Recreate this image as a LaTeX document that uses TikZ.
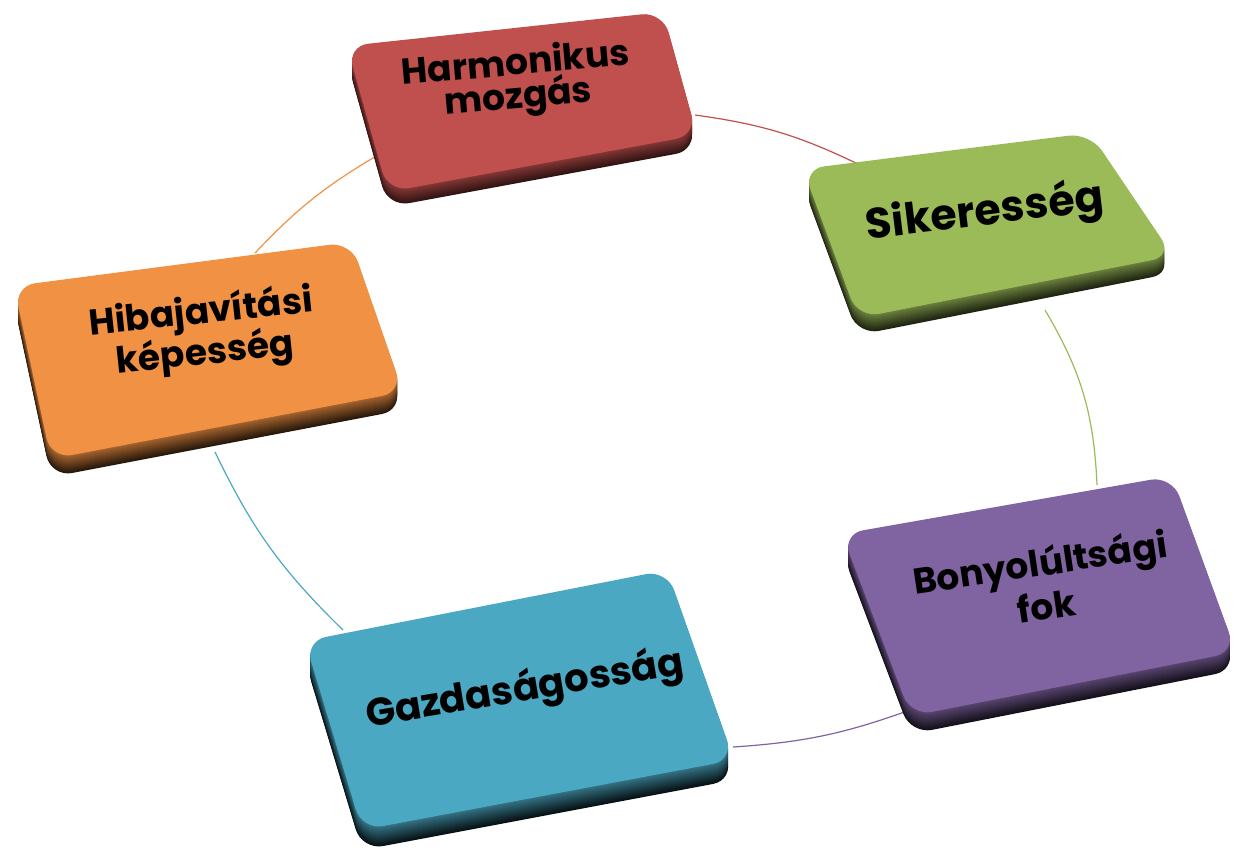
\documentclass[tikz,border=0pt]{standalone}
\usepackage{fontspec}
\setmainfont{Poppins}

\definecolor{harmred}{RGB}{192,80,77}
\definecolor{sikgreen}{RGB}{155,187,89}
\definecolor{hibaorange}{RGB}{240,145,68}
\definecolor{bonypurple}{RGB}{128,100,162}
\definecolor{gazdblue}{RGB}{75,168,194}

\tikzset{
  face/.style={fill=#1, rounded corners=16pt},
  side/.style={fill=#1, rounded corners=16pt},
  link/.style={draw=#1, line width=0.9pt},
  boxtext/.style={text=black, align=center, inner sep=0pt}
}

\begin{document}
\begin{tikzpicture}[x=0.75pt,y=0.75pt,yscale=-1,xscale=1]
\useasboundingbox (0,0) rectangle (1238,850);

%Connector ends
\coordinate (redA) at (695,115);
\coordinate (greenA) at (860,165);
\coordinate (greenB) at (1045,310);
\coordinate (purpleA) at (1097,485);
\coordinate (purpleB) at (910,710);
\coordinate (blueA) at (733,747);
\coordinate (blueB) at (343,630);
\coordinate (orangeA) at (215,452);
\coordinate (orangeB) at (255,253);
\coordinate (redB) at (378,155);

%Circle arcs
\draw [link=harmred] (redA) to[bend right=9] (greenA);
\draw [link=sikgreen] (greenB) to[bend right=14] (purpleA);
\draw [link=bonypurple] (purpleB) to[bend right=8] (blueA);
\draw [link=gazdblue] (blueB) to[bend right=10] (orangeA);
\draw [link=hibaorange] (orangeB) to[bend right=8] (redB);

%Box: Harmonikus mozgas
\foreach \t [evaluate=\t as \p using {int(70-3*\t)}] in {15,14,...,1}
  \path [side=harmred!\p!black, shift={(0,\t)}] (347,46) -- (663,12) -- (697,135) -- (388,192) -- cycle;
\path [face=harmred] (347,46) -- (663,12) -- (697,135) -- (388,192) -- cycle;
\node [boxtext, rotate=5, font=\bfseries\fontsize{27}{25}\selectfont] (harm) at (517,82) {Harmonikus\\mozgás};

%Box: Sikeresseg
\foreach \t [evaluate=\t as \p using {int(70-3*\t)}] in {17,16,...,1}
  \path [side=sikgreen!\p!black, shift={(0,\t)}] (803,169) -- (1090,133) -- (1173,256) -- (858,318) -- cycle;
\path [face=sikgreen] (803,169) -- (1090,133) -- (1173,256) -- (858,318) -- cycle;
\node [boxtext, rotate=7, font=\bfseries\fontsize{32}{32}\selectfont] (sik) at (985,213) {Sikeresség};

%Box: Hibajavitasi kepesseg
\foreach \t [evaluate=\t as \p using {int(70-3*\t)}] in {18,17,...,1}
  \path [side=hibaorange!\p!black, shift={(0,\t)}] (14,286) -- (351,242) -- (403,392) -- (51,459) -- cycle;
\path [face=hibaorange] (14,286) -- (351,242) -- (403,392) -- (51,459) -- cycle;
\node [boxtext, rotate=6, font=\bfseries\fontsize{27}{27}\selectfont] (hiba) at (203,334) {Hibajavítási\\képesség};

%Box: Bonyolultsagi fok
\foreach \t [evaluate=\t as \p using {int(70-3*\t)}] in {18,17,...,1}
  \path [side=bonypurple!\p!black, shift={(0,\t)}] (842,534) -- (1172,476) -- (1236,652) -- (911,716) -- cycle;
\path [face=bonypurple] (842,534) -- (1172,476) -- (1236,652) -- (911,716) -- cycle;
\node [boxtext, rotate=8.5, font=\bfseries\fontsize{27}{33}\selectfont] (bony) at (1043,583) {Bonyolúltsági\\fok};

%Box: Gazdasagossag
\foreach \t [evaluate=\t as \p using {int(70-3*\t)}] in {20,19,...,1}
  \path [side=gazdblue!\p!black, shift={(0,\t)}] (305,641) -- (667,570) -- (734,760) -- (362,830) -- cycle;
\path [face=gazdblue] (305,641) -- (667,570) -- (734,760) -- (362,830) -- cycle;
\node [boxtext, rotate=9.5, font=\bfseries\fontsize{29}{29}\selectfont] (gazd) at (525,690) {Gazdaságosság};

\end{tikzpicture}
\end{document}
